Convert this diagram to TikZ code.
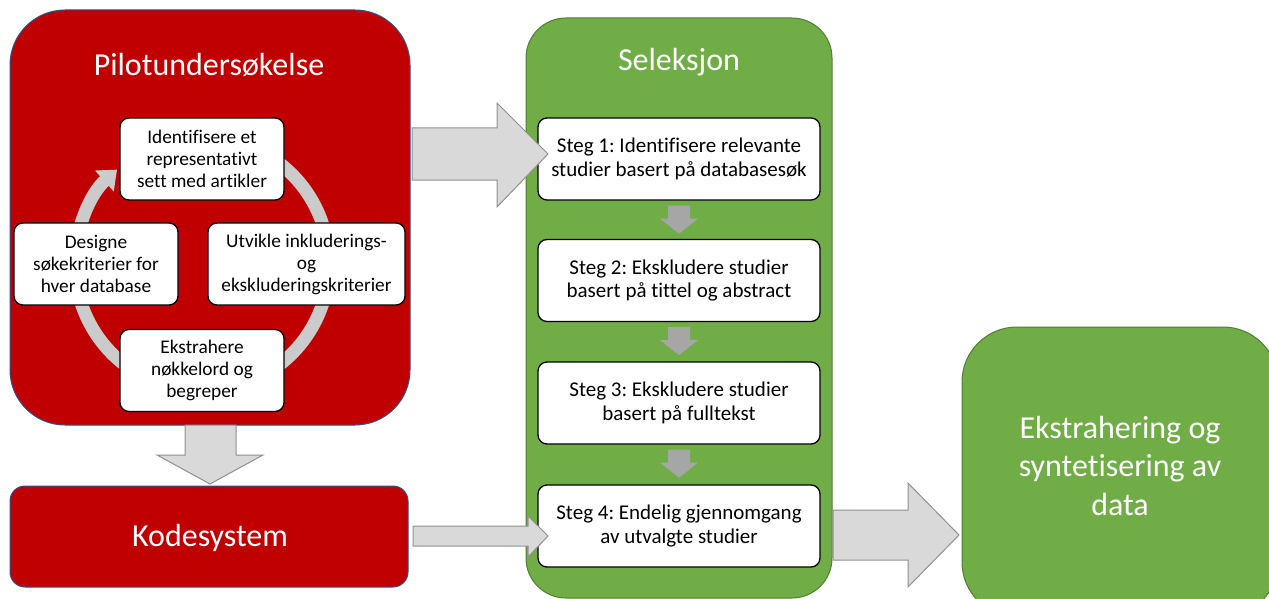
\documentclass[tikz,border=0pt]{standalone}
\usepackage{fontspec}
\setmainfont{Carlito}[Ligatures=NoCommon]
\usetikzlibrary{arrows.meta,calc}
\definecolor{pred}{HTML}{C00000}
\definecolor{pblue}{HTML}{2F528F}
\definecolor{pgreen}{HTML}{70AD47}
\definecolor{pgreenb}{HTML}{507E32}
\definecolor{arrfill}{HTML}{D9D9D9}
\definecolor{arrdraw}{HTML}{909090}
\definecolor{ringc}{HTML}{CBCBCB}
\definecolor{smallarr}{HTML}{A6A6A6}
\frenchspacing
\begin{document}
\begin{tikzpicture}[x=1pt,y=-1pt,
  redbox/.style={draw=pblue,line width=1pt,fill=pred,rounded corners=#1,inner sep=0pt},
  greenbox/.style={draw=pgreenb,line width=1pt,fill=pgreen,rounded corners=#1,inner sep=0pt},
  whitebox/.style={draw=black,line width=1.3pt,fill=white,rounded corners=9pt,inner sep=1pt,align=center,
     font=\fontsize{19.3}{22}\selectfont,minimum height=82pt},
  stepbox/.style={whitebox,font=\fontsize{21}{23.5}\selectfont,minimum width=282pt},
  bigtext/.style={text=white,font=\fontsize{32}{38}\selectfont},
  blockarrow/.style={fill=arrfill,draw=arrdraw,line width=1pt,line join=miter},
  smallarrow/.style={fill=smallarr,draw=none},
  ring/.style={draw=ringc,line width=13pt}
]
\useasboundingbox (0,0) rectangle (1269,599);

% main containers
\node[redbox=55pt,minimum width=400pt,minimum height=415pt] (pilot) at (210,217.5) {};
\node[bigtext] (pilottitle) at (209,65) {Pilotundersøkelse};
\node[redbox=15pt,minimum width=398pt,minimum height=101pt] (kode) at (209,536.5) {};
\node[bigtext] (kodetext) at (210,538) {Kodesystem};
\node[greenbox=40pt,minimum width=306pt,minimum height=580pt] (sel) at (679,308) {};
\node[bigtext] (seltitle) at (679,62) {Seleksjon};
\node[greenbox=55pt,minimum width=316pt,minimum height=290pt] (final) at (1120,472) {};
\node[text=white,align=center,font=\fontsize{32}{38.5}\selectfont] (finaltext) at (1120,466)
  {Ekstrahering og\\syntetisering av\\data};

% cycle ring
\coordinate (rc) at (202,264);
\draw[ring,-{Triangle[width=27pt,length=17pt]}] ($(rc)+(-60:127)$) arc[start angle=-60,end angle=228,radius=127];

% cycle boxes
\node[whitebox,minimum width=164pt] (c1) at (202,159) {Identifisere et\\representativt\\sett med artikler};
\node[whitebox,minimum width=197pt] (c2) at (306.5,264) {Utvikle inkluderings-\\og\\ekskluderingskriterier};
\node[whitebox,minimum width=164pt] (c3) at (202,370.5) {Ekstrahere\\nøkkelord og\\begreper};
\node[whitebox,minimum width=164pt] (c4) at (96,264) {Designe\\søkekriterier for\\hver database};

% step boxes
\node[stepbox] (s1) at (679,159) {Steg 1: Identifisere relevante\\studier basert på databasesøk};
\node[stepbox] (s2) at (679,280.5) {Steg 2: Ekskludere studier\\basert på tittel og abstract};
\node[stepbox] (s3) at (679,403) {Steg 3: Ekskludere studier\\basert på fulltekst};
\node[stepbox] (s4) at (679,526) {Steg 4: Endelig gjennomgang\\av utvalgte studier};

% small down arrows between steps
\foreach \a/\b in {s1/s2,s2/s3,s3/s4}{
  \path (\a.south) ++(0,5) coordinate (t);
  \fill[smallarrow] ($(t)+(-11,0)$) -- ($(t)+(11,0)$) -- ($(t)+(11,13)$) -- ($(t)+(19,13)$) -- ($(t)+(0,28)$) -- ($(t)+(-19,13)$) -- ($(t)+(-11,13)$) -- cycle;
}

% block arrows
\draw[blockarrow] (412,128) -- (497,128) -- (497,103) -- (548,154) -- (497,207) -- (497,180) -- (412,180) -- cycle;
\draw[blockarrow] (185,425) -- (236,425) -- (236,455) -- (263,455) -- (210,484) -- (157,455) -- (185,455) -- cycle;
\draw[blockarrow] (413,526) -- (528,526) -- (528,516) -- (548,536) -- (528,557) -- (528,546) -- (413,546) -- cycle;
\draw[blockarrow] (833,510) -- (908,510) -- (908,483) -- (959,535) -- (908,587) -- (908,560) -- (833,560) -- cycle;
\end{tikzpicture}
\end{document}
